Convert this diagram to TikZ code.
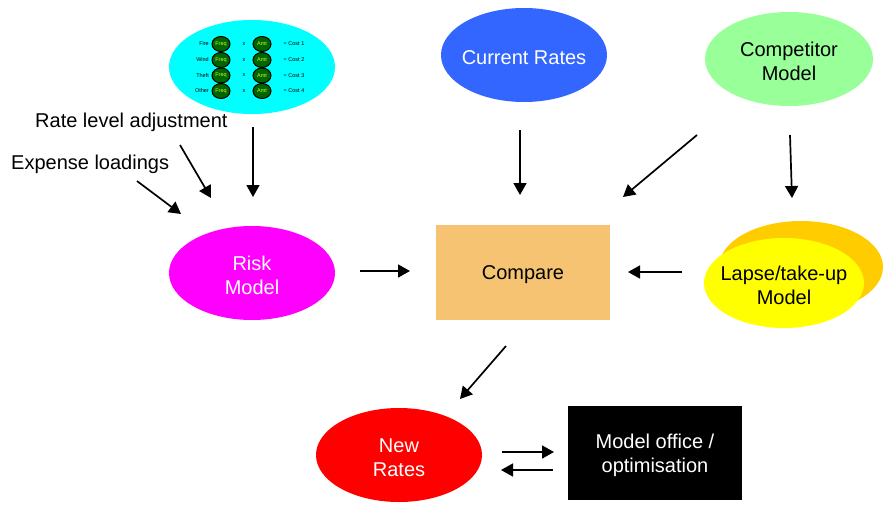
\documentclass[tikz,border=0pt]{standalone}
\usepackage{fontspec}
\setmainfont{Liberation Sans}
\usetikzlibrary{shapes.geometric,arrows.meta}
\definecolor{cyanfill}{HTML}{00FFFF}
\definecolor{bluefill}{HTML}{3366FF}
\definecolor{greenfill}{HTML}{99FF99}
\definecolor{magfill}{HTML}{FF00FF}
\definecolor{orangefill}{HTML}{F5C372}
\definecolor{yellowfill}{HTML}{FFFF00}
\definecolor{goldfill}{HTML}{FFCC00}
\definecolor{redfill}{HTML}{FF0000}
\definecolor{dkgreen}{HTML}{006600}
\definecolor{freqtext}{HTML}{CCFF33}
\tikzset{
  bubble/.style={ellipse, inner sep=0pt, minimum width=166pt, minimum height=94pt},
  caption/.style={inner sep=0pt, align=center, yshift=-2.5pt, font=\fontsize{20}{24}\selectfont},
  panel/.style={rectangle, inner sep=0pt, minimum width=174pt, minimum height=95pt},
  label/.style={font=\fontsize{20}{24}\selectfont, inner sep=0pt},
  flow/.style={line width=1.7pt, -{Triangle[length=12pt,width=13pt]}},
  freq/.style={ellipse, draw=black, line width=1pt, fill=dkgreen, inner sep=0pt,
    minimum width=18pt, minimum height=15pt, text=freqtext,
    font=\fontsize{5.5}{6}\selectfont},
  tiny/.style={inner sep=0pt, font=\fontsize{5.5}{6}\selectfont}
}
\begin{document}
\begin{tikzpicture}[x=1pt,y=-1pt]
\useasboundingbox (0,0) rectangle (884,504);

% risk factor summary
\node[bubble, fill=cyanfill] (factors) at (252,67) {};
\foreach \lab/\cost/\yy [count=\i] in {Fire/1/44, Wind/2/60, Theft/3/75.5, Other/4/91}{
  \node[tiny, anchor=east] (lab\i) at (209,\yy) {\lab};
  \node[freq] (fq\i) at (221,\yy) {Freq};
  \node[tiny] (x\i) at (244,\yy) {x};
  \node[freq] (am\i) at (262,\yy) {Amt};
  \node[tiny] (cost\i) at (294,\yy) {= Cost \cost};
}

\node[bubble, fill=bluefill] (current) at (524,55) {};
\node[caption, text=white] (currenttext) at (current) {Current Rates};

\node[bubble, fill=greenfill, minimum width=168pt] (competitor) at (789,59) {};
\node[caption] (competitortext) at (competitor) {Competitor\\Model};

\node[bubble, fill=magfill] (risk) at (252,273) {};
\node[caption, text=white] (risktext) at (risk) {Risk\\Model};

\node[panel, fill=orangefill] (compare) at (523,272) {};
\node[caption] (comparetext) at (compare) {Compare};

% lapse model with shadow ellipse behind
\node[bubble, fill=goldfill, minimum width=164pt, minimum height=92pt] (lapseback) at (801,267) {};
\node[bubble, fill=yellowfill, minimum width=160pt, minimum height=90pt] (lapse) at (784,283) {};
\node[caption] (lapsetext) at (lapse) {Lapse/take-up\\Model};

\node[bubble, fill=redfill] (newrates) at (399,455) {};
\node[caption, text=white] (newratestext) at (newrates) {New\\Rates};

\node[panel, fill=black, minimum height=94pt] (office) at (655,453) {};
\node[caption, text=white] (officetext) at (office) {Model office /\\optimisation};

\node[label, anchor=west] (ratelevel) at (35,122) {Rate level adjustment};
\node[label, anchor=west] (expense) at (11,164) {Expense loadings};

% arrow end points
\coordinate (f1s) at (253,127);   \coordinate (f1e) at (253,197);
\coordinate (f2s) at (180,145);   \coordinate (f2e) at (211,198);
\coordinate (f3s) at (137,181);   \coordinate (f3e) at (181,214);
\coordinate (f4s) at (520,130);   \coordinate (f4e) at (520,195);
\coordinate (f5s) at (697,135);   \coordinate (f5e) at (623,197);
\coordinate (f6s) at (790,135);   \coordinate (f6e) at (792,198);
\coordinate (f7s) at (360,271);   \coordinate (f7e) at (410,271);
\coordinate (f8s) at (682,272);   \coordinate (f8e) at (628,272);
\coordinate (f9s) at (506,346);   \coordinate (f9e) at (460,399);
\coordinate (f10s) at (502,452);  \coordinate (f10e) at (554,452);
\coordinate (f11s) at (553,470);  \coordinate (f11e) at (501,470);

\foreach \k in {1,...,11}{ \draw[flow] (f\k s) -- (f\k e); }
\end{tikzpicture}
\end{document}
